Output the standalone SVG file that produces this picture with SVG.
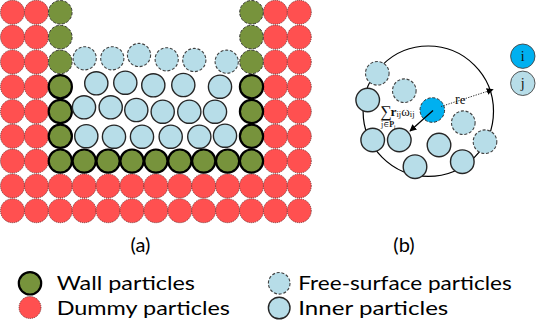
<svg xmlns="http://www.w3.org/2000/svg" width="545" height="324" viewBox="0 0 545 324">
<defs>
<style>
.red{fill:#ff5050;stroke:#5a2a2a;stroke-width:0.8;stroke-dasharray:1 1}
.gd{fill:#77933c;stroke:#3a3a3a;stroke-width:1;stroke-dasharray:3 1.6}
.gt{fill:#77933c;stroke:#000;stroke-width:2.2}
.bf{fill:#b7dde8;stroke:#404040;stroke-width:1.1;stroke-dasharray:3 1.8}
.bi{fill:#b7dde8;stroke:#262626;stroke-width:1.4}
.ci{fill:#00b0f0;stroke:#333;stroke-width:1;stroke-dasharray:3 1.8}
.lbl{font-family:Lato,"Liberation Sans",sans-serif;font-size:20px;fill:#000}
.ser{font-family:"Liberation Serif","DejaVu Serif",serif;fill:#111}
</style>
<marker id="ah" viewBox="0 0 10 10" refX="9" refY="5" markerWidth="7" markerHeight="7" orient="auto" markerUnits="userSpaceOnUse">
<path d="M0,0 L10,5 L0,10 Z" fill="#000"/>
</marker>
</defs>
<rect width="545" height="324" fill="#fff"/>

<g id="dummy-particles">
<circle class="red" cx="12.5" cy="12.3" r="12"/><circle class="red" cx="36.4" cy="12.3" r="12"/><circle class="red" cx="275.4" cy="12.3" r="12"/><circle class="red" cx="299.3" cy="12.3" r="12"/>
<circle class="red" cx="12.5" cy="37.1" r="12"/><circle class="red" cx="36.4" cy="37.1" r="12"/><circle class="red" cx="275.4" cy="37.1" r="12"/><circle class="red" cx="299.3" cy="37.1" r="12"/>
<circle class="red" cx="12.5" cy="61.9" r="12"/><circle class="red" cx="36.4" cy="61.9" r="12"/><circle class="red" cx="275.4" cy="61.9" r="12"/><circle class="red" cx="299.3" cy="61.9" r="12"/>
<circle class="red" cx="12.5" cy="86.7" r="12"/><circle class="red" cx="36.4" cy="86.7" r="12"/><circle class="red" cx="275.4" cy="86.7" r="12"/><circle class="red" cx="299.3" cy="86.7" r="12"/>
<circle class="red" cx="12.5" cy="111.5" r="12"/><circle class="red" cx="36.4" cy="111.5" r="12"/><circle class="red" cx="275.4" cy="111.5" r="12"/><circle class="red" cx="299.3" cy="111.5" r="12"/>
<circle class="red" cx="12.5" cy="136.3" r="12"/><circle class="red" cx="36.4" cy="136.3" r="12"/><circle class="red" cx="275.4" cy="136.3" r="12"/><circle class="red" cx="299.3" cy="136.3" r="12"/>
<circle class="red" cx="12.5" cy="161.1" r="12"/><circle class="red" cx="36.4" cy="161.1" r="12"/><circle class="red" cx="275.4" cy="161.1" r="12"/><circle class="red" cx="299.3" cy="161.1" r="12"/>
<circle class="red" cx="12.5" cy="185.9" r="12"/><circle class="red" cx="36.4" cy="185.9" r="12"/><circle class="red" cx="60.3" cy="185.9" r="12"/><circle class="red" cx="84.2" cy="185.9" r="12"/><circle class="red" cx="108.1" cy="185.9" r="12"/><circle class="red" cx="132" cy="185.9" r="12"/><circle class="red" cx="155.9" cy="185.9" r="12"/><circle class="red" cx="179.8" cy="185.9" r="12"/><circle class="red" cx="203.7" cy="185.9" r="12"/><circle class="red" cx="227.6" cy="185.9" r="12"/><circle class="red" cx="251.5" cy="185.9" r="12"/><circle class="red" cx="275.4" cy="185.9" r="12"/><circle class="red" cx="299.3" cy="185.9" r="12"/>
<circle class="red" cx="12.5" cy="210.7" r="12"/><circle class="red" cx="36.4" cy="210.7" r="12"/><circle class="red" cx="60.3" cy="210.7" r="12"/><circle class="red" cx="84.2" cy="210.7" r="12"/><circle class="red" cx="108.1" cy="210.7" r="12"/><circle class="red" cx="132" cy="210.7" r="12"/><circle class="red" cx="155.9" cy="210.7" r="12"/><circle class="red" cx="179.8" cy="210.7" r="12"/><circle class="red" cx="203.7" cy="210.7" r="12"/><circle class="red" cx="227.6" cy="210.7" r="12"/><circle class="red" cx="251.5" cy="210.7" r="12"/><circle class="red" cx="275.4" cy="210.7" r="12"/><circle class="red" cx="299.3" cy="210.7" r="12"/>
</g>

<g id="wall-particles">
<circle class="gd" cx="60.3" cy="12.3" r="11.8"/><circle class="gd" cx="60.3" cy="37.1" r="11.8"/><circle class="gd" cx="60.3" cy="61.9" r="11.8"/>
<circle class="gd" cx="251.5" cy="12.3" r="11.8"/><circle class="gd" cx="251.5" cy="37.1" r="11.8"/><circle class="gd" cx="251.5" cy="61.9" r="11.8"/>
<circle class="gt" cx="60.3" cy="86.7" r="11.6"/><circle class="gt" cx="60.3" cy="111.5" r="11.6"/><circle class="gt" cx="60.3" cy="136.3" r="11.6"/>
<circle class="gt" cx="251.5" cy="86.7" r="11.6"/><circle class="gt" cx="251.5" cy="111.5" r="11.6"/><circle class="gt" cx="251.5" cy="136.3" r="11.6"/>
<circle class="gt" cx="60.3" cy="161.1" r="11.6"/><circle class="gt" cx="84.2" cy="161.1" r="11.6"/><circle class="gt" cx="108.1" cy="161.1" r="11.6"/><circle class="gt" cx="132" cy="161.1" r="11.6"/><circle class="gt" cx="155.9" cy="161.1" r="11.6"/><circle class="gt" cx="179.8" cy="161.1" r="11.6"/><circle class="gt" cx="203.7" cy="161.1" r="11.6"/><circle class="gt" cx="227.6" cy="161.1" r="11.6"/><circle class="gt" cx="251.5" cy="161.1" r="11.6"/>
</g>

<g id="fluid-particles-a">
<circle class="bf" cx="84.7" cy="58.3" r="11.6"/><circle class="bf" cx="112.3" cy="58.3" r="11.6"/><circle class="bf" cx="139" cy="55" r="11.6"/><circle class="bf" cx="166.7" cy="59.3" r="11.6"/><circle class="bf" cx="194.3" cy="60" r="11.6"/><circle class="bf" cx="226.7" cy="61.7" r="11.6"/>
<circle class="bi" cx="96.3" cy="83.3" r="11.6"/><circle class="bi" cx="125.3" cy="82.7" r="11.6"/><circle class="bi" cx="153.3" cy="85.3" r="11.6"/><circle class="bi" cx="183.3" cy="85" r="11.6"/><circle class="bi" cx="220" cy="86.7" r="11.6"/>
<circle class="bi" cx="84" cy="107.3" r="11.6"/><circle class="bi" cx="110.7" cy="107.3" r="11.6"/><circle class="bi" cx="136.3" cy="110" r="11.6"/><circle class="bi" cx="162.7" cy="111.7" r="11.6"/><circle class="bi" cx="189.3" cy="111.7" r="11.6"/><circle class="bi" cx="215" cy="111.7" r="11.6"/>
<circle class="bi" cx="86.3" cy="136.2" r="11.6"/><circle class="bi" cx="114" cy="136.7" r="11.6"/><circle class="bi" cx="142" cy="136.7" r="11.6"/><circle class="bi" cx="170.7" cy="136.7" r="11.6"/><circle class="bi" cx="199.3" cy="136.7" r="11.6"/><circle class="bi" cx="225" cy="135.7" r="11.6"/>
</g>

<g id="support-domain">
<circle cx="428.3" cy="111.2" r="65.2" fill="none" stroke="#000" stroke-width="1.2"/>
</g>

<g id="neighbour-particles">
<circle class="bf" cx="377.3" cy="73.3" r="11.8"/><circle class="bf" cx="404.3" cy="90.7" r="11.8"/><circle class="bf" cx="463.3" cy="122.7" r="11.8"/><circle class="bf" cx="485" cy="141.7" r="11.8"/>
<circle class="bi" cx="367.7" cy="100" r="11.8"/><circle class="bi" cx="372.7" cy="140" r="11.8"/><circle class="bi" cx="399.3" cy="140" r="11.8"/><circle class="bi" cx="415" cy="166.7" r="11.8"/><circle class="bi" cx="439" cy="145" r="11.8"/><circle class="bi" cx="462.3" cy="161.7" r="11.8"/>
</g>

<g id="particle-i">
<circle class="ci" cx="432.3" cy="110" r="12.3"/>
</g>

<g id="connectors">
<line x1="433" y1="110.5" x2="410" y2="131" stroke="#000" stroke-width="1.3" marker-end="url(#ah)"/>
<line x1="441" y1="106.5" x2="493" y2="89.5" stroke="#333" stroke-width="1" stroke-dasharray="1.3 1.3" marker-end="url(#ah)"/>
</g>

<g id="formula-labels">
<text class="ser" x="380.5" y="117" font-size="16">∑</text>
<text class="ser" x="390.5" y="115.5" font-size="13.5" font-weight="bold">r<tspan font-size="8.5" font-weight="normal" dy="1">ij</tspan><tspan font-size="13" font-weight="normal" dy="-1">ω</tspan><tspan font-size="8.5" font-weight="normal" dy="1">ij</tspan></text>
<text class="ser" x="381" y="127" font-size="8">j∈<tspan font-weight="bold">P</tspan><tspan font-size="5.5" dy="1.5">i</tspan></text>
<text class="ser" x="455" y="103.5" font-size="14">r<tspan font-size="13">e</tspan></text>
</g>

<g id="legend-i">
<circle cx="522.8" cy="56.2" r="12.2" fill="#00b0f0" stroke="#444" stroke-width="0.9"/>
<text class="ser" x="522.8" y="61" font-size="14" text-anchor="middle">i</text>
</g>
<g id="legend-j">
<circle cx="522.8" cy="83.3" r="12.2" fill="#b7dde8" stroke="#444" stroke-width="0.9"/>
<text class="ser" x="522.8" y="88" font-size="14" text-anchor="middle">j</text>
</g>

<g id="captions">
<text class="lbl" x="140.5" y="251.7" text-anchor="middle">(a)</text>
<text class="lbl" x="404" y="251.7" text-anchor="middle">(b)</text>
</g>

<g id="legend-wall">
<circle class="gt" cx="30" cy="283.3" r="11.2" stroke-width="2"/>
<text class="lbl" x="56.7" y="290" textLength="138.3" lengthAdjust="spacingAndGlyphs">Wall particles</text>
</g>
<g id="legend-dummy">
<circle class="red" cx="30" cy="307.5" r="11"/>
<text class="lbl" x="56.7" y="315" textLength="173.3" lengthAdjust="spacingAndGlyphs">Dummy particles</text>
</g>
<g id="legend-free-surface">
<circle class="bf" cx="279.2" cy="283.3" r="10.8"/>
<text class="lbl" x="298.3" y="290" textLength="213.4" lengthAdjust="spacingAndGlyphs">Free-surface particles</text>
</g>
<g id="legend-inner">
<circle class="bi" cx="279.2" cy="308" r="10.8"/>
<text class="lbl" x="298.3" y="315" textLength="150" lengthAdjust="spacingAndGlyphs">Inner particles</text>
</g>
</svg>
